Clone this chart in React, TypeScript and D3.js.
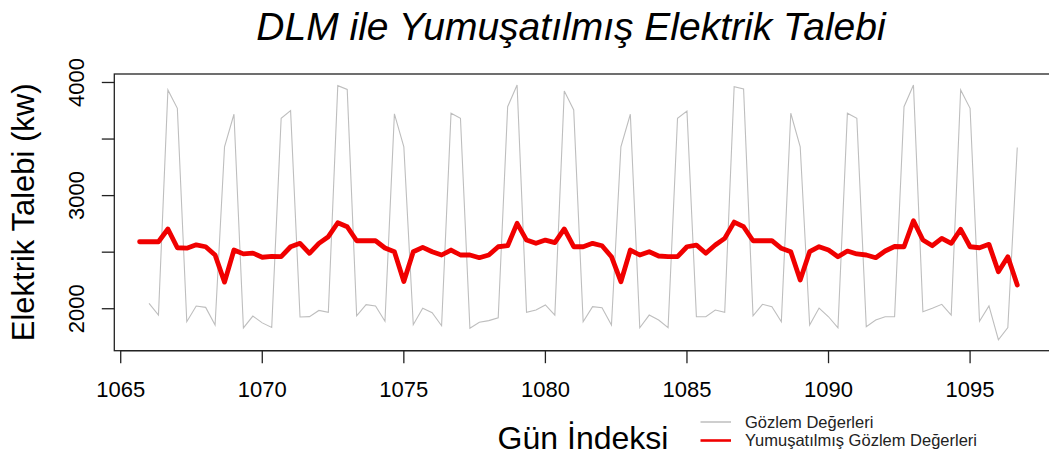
import React from "react";
import * as d3 from "d3";

// x grid: one observation every 1/3 day
const dayStart = 1065 + 2 / 3;
const dayStep = 1 / 3;

// Observed demand (first slot missing)
const observed: (number | null)[] = [
  null, 2048, 1944, 3934, 3772, 1885, 2024, 2012, 1856, 3432,
  3719, 1830, 1935, 1875, 1835, 3683, 3751, 1927, 1930, 1985,
  1968, 3972, 3938, 1937, 2036, 2025, 1890, 3723, 3432, 1859,
  2004, 1965, 1850, 3728, 3683, 1827, 1880, 1895, 1920, 3786,
  3978, 1968, 1989, 2033, 1944, 3925, 3757, 1885, 2018, 2009,
  1856, 3432, 3719, 1832, 1944, 1900, 1832, 3683, 3748, 1929,
  1929, 1989, 1968, 3963, 3943, 1938, 2039, 2018, 1885, 3728,
  3432, 1856, 2006, 1929, 1832, 3728, 3683, 1841, 1900, 1929,
  1929, 3786, 3978, 1973, 2004, 2039, 1944, 3934, 3772, 1890,
  2025, 1726, 1834, 3425,
];

// DLM smoothed demand
const smoothed: number[] = [
  2592, 2592, 2592, 2705, 2539, 2535, 2565, 2548, 2475, 2235,
  2519, 2485, 2492, 2455, 2462, 2460, 2548, 2578, 2490, 2578,
  2637, 2760, 2725, 2601, 2601, 2601, 2537, 2504, 2240, 2504,
  2543, 2504, 2475, 2519, 2475, 2475, 2451, 2475, 2548, 2557,
  2755, 2607, 2578, 2607, 2584, 2705, 2548, 2548, 2578, 2557,
  2460, 2239, 2519, 2475, 2504, 2466, 2460, 2460, 2548, 2563,
  2490, 2563, 2622, 2766, 2725, 2601, 2601, 2601, 2534, 2504,
  2254, 2504, 2548, 2519, 2460, 2510, 2484, 2475, 2451, 2510,
  2550, 2548, 2778, 2607, 2557, 2622, 2578, 2702, 2548, 2539,
  2569, 2327, 2460, 2210,
];

const xTicks = [1065, 1070, 1075, 1080, 1085, 1090, 1095];
const yTicks = [2000, 2500, 3000, 3500, 4000];
const yTickLabels = [2000, 3000, 4000];
const yLimits = [1629, 4075];

const titleText = "DLM ile Yumuşatılmış Elektrik Talebi";
const xLabel = "Gün İndeksi";
const yLabel = "Elektrik Talebi (kw)";
const legendLabels = ["Gözlem Değerleri", "Yumuşatılmış Gözlem Değerleri"];
const legendColors = ["#BEBEBE", "#F00000"];

const W = 1049;
const H = 457;
const FONT = "'Liberation Sans', Arial, Helvetica, sans-serif";

export default function App() {
  const days = smoothed.map((_, i) => dayStart + i * dayStep);
  const obsDays = days.filter((_, i) => observed[i] != null);
  const xMin = d3.min(obsDays)!;
  const xMax = d3.max(obsDays)!;
  const pad = (xMax - xMin) * 0.04;

  const left = 114.3;
  const right = 1052;
  const top = 74;
  const bottom = 350.7;

  const x = d3.scaleLinear().domain([xMin - pad, xMax + pad]).range([left, right]);
  const y = d3.scaleLinear().domain(yLimits).range([bottom, top]);

  const lineObs = d3
    .line<number | null>()
    .defined((d) => d != null)
    .x((_, i) => x(days[i]))
    .y((d) => y(d as number));
  const lineSm = d3
    .line<number>()
    .x((_, i) => x(days[i]))
    .y((d) => y(d));

  const tickLen = 12.5;

  return (
    <svg
      width={W}
      height={H}
      viewBox={`0 0 ${W} ${H}`}
      style={{ position: "absolute", left: 0, top: 0, background: "#fff" }}
      fontFamily={FONT}
    >
      <rect x={0} y={0} width={W} height={H} fill="#fff" />
      <defs>
        <clipPath id="plotclip">
          <rect x={left} y={top} width={right - left} height={bottom - top} />
        </clipPath>
      </defs>

      {/* Title */}
      <text x={571} y={40} textAnchor="middle" fontSize={39} fontStyle="italic" fill="#000">
        {titleText}
      </text>

      {/* Series */}
      <g clipPath="url(#plotclip)">
        <path d={lineObs(observed) || ""} fill="none" stroke={legendColors[0]} strokeWidth={1.1} />
        <path
          d={lineSm(smoothed) || ""}
          fill="none"
          stroke={legendColors[1]}
          strokeWidth={4.8}
          strokeLinejoin="round"
          strokeLinecap="round"
        />
      </g>

      {/* Box */}
      <rect
        x={left}
        y={top}
        width={right - left}
        height={bottom - top}
        fill="none"
        stroke="#222"
        strokeWidth={1.3}
      />

      {/* X axis */}
      <g>
        <line x1={x(xTicks[0])} x2={x(xTicks[xTicks.length - 1])} y1={bottom} y2={bottom} stroke="#222" strokeWidth={1.3} />
        {xTicks.map((t) => (
          <g key={t}>
            <line x1={x(t)} x2={x(t)} y1={bottom} y2={bottom + tickLen} stroke="#222" strokeWidth={1.3} />
            <text x={x(t)} y={397} textAnchor="middle" fontSize={22} fill="#000">
              {t}
            </text>
          </g>
        ))}
      </g>

      {/* Y axis */}
      <g>
        {yTicks.map((t) => (
          <line key={t} x1={left - tickLen} x2={left} y1={y(t)} y2={y(t)} stroke="#222" strokeWidth={1.3} />
        ))}
        {yTickLabels.map((t) => (
          <text
            key={t}
            transform={`translate(83.5,${y(t)}) rotate(-90)`}
            textAnchor="middle"
            fontSize={22}
            fill="#000"
          >
            {t}
          </text>
        ))}
      </g>

      {/* Axis titles */}
      <text x={583} y={449} textAnchor="middle" fontSize={32} fill="#000">
        {xLabel}
      </text>
      <text
        transform={`translate(33.5,${(top + bottom) / 2}) rotate(-90)`}
        textAnchor="middle"
        fontSize={31}
        fill="#000"
      >
        {yLabel}
      </text>

      {/* Legend */}
      <g>
        {legendLabels.map((lab, i) => (
          <g key={lab}>
            <line
              x1={700.5}
              x2={731}
              y1={422 + i * 18.5}
              y2={422 + i * 18.5}
              stroke={legendColors[i]}
              strokeWidth={i === 0 ? 1.5 : 2.6}
            />
            <text x={745} y={427.5 + i * 18.5} fontSize={16.5} fill="#222">
              {lab}
            </text>
          </g>
        ))}
      </g>
    </svg>
  );
}
